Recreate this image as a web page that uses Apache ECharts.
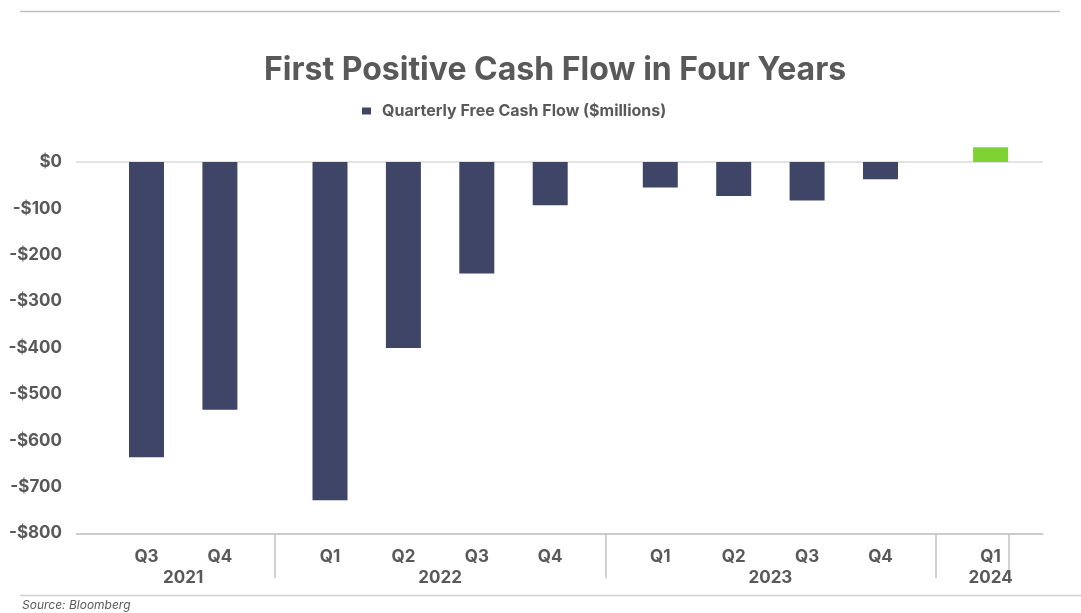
<!DOCTYPE html>
<html>
<head>
<meta charset="utf-8">
<script src="https://cdn.jsdelivr.net/npm/echarts@6/dist/echarts.min.js"></script>
<style>
html,body{margin:0;padding:0;background:#fff;}
#chart{width:1081px;height:613px;}
</style>
</head>
<body>
<div id="chart"></div>
<script>
// ---- data ----
var years = ['2021', '2022', '2023', '2024'];
var quarterLabels = [
  ['Q3', 'Q4'],
  ['Q1', 'Q2', 'Q3', 'Q4'],
  ['Q1', 'Q2', 'Q3', 'Q4'],
  ['Q1']
];
var cashFlow = [
  [-636, -534],
  [-729, -401, -240, -93],
  [-55, -73, -83, -37],
  [32]
];
var yTicks = [-800, -700, -600, -500, -400, -300, -200, -100, 0];
var seriesName = 'Quarterly Free Cash Flow ($millions)';

// ---- layout of category slots (within a year: 2 slots per quarter, 3 between years) ----
var STEP = 2, GAP = 3;
var slotQ = [], slotY = [], slotV = [], sepTicks = [];
var pos = 0;
years.forEach(function (yr, g) {
  if (g > 0) { sepTicks.push(pos + 2); pos += GAP; }
  var first = pos;
  quarterLabels[g].forEach(function (q, i) {
    if (i > 0) pos += STEP;
    slotQ[pos] = q;
    slotV[pos] = cashFlow[g][i];
  });
  var last = pos;
  slotY[Math.round((first + last) / 2)] = yr;
});
var nSlots = pos + 1;
var qCats = [], yCats = [], barData = [];
for (var i = 0; i < nSlots; i++) {
  qCats.push(slotQ[i] || '');
  yCats.push(slotY[i] || '');
  var v = slotV[i];
  if (v === undefined) barData.push('-');
  else barData.push({ value: v, itemStyle: { color: v >= 0 ? '#7ed332' : '#3e4566' } });
}

var FONT = 'Inter, "Noto Sans", sans-serif';
var GREY = '#595959';
var gridTop = 115.6, gridBottom = 79.7;

var chart = echarts.init(document.getElementById('chart'));
chart.setOption({
  animation: false,
  backgroundColor: '#ffffff',
  title: {
    text: 'First Positive Cash Flow in Four Years',
    left: 259, top: 49,
    textStyle: { fontFamily: FONT, fontSize: 32, fontWeight: 'bold', color: GREY }
  },
  legend: {
    data: [{ name: seriesName, icon: 'rect', itemStyle: { color: '#3e4566' } }],
    left: 357, top: 98,
    itemWidth: 9, itemHeight: 7,
    textStyle: { fontFamily: FONT, fontSize: 16, fontWeight: 'bold', color: GREY, padding: [0, 0, 0, 6] }
  },
  grid: [
    { left: 76, right: 38, top: gridTop, bottom: gridBottom },
    { left: 128.15, right: 72.05, top: gridTop, bottom: gridBottom }
  ],
  xAxis: [
    { gridIndex: 0, type: 'category', data: [''], show: true,
      axisLine: { show: false }, axisTick: { show: false }, axisLabel: { show: false } },
    { gridIndex: 1, type: 'category', data: qCats, position: 'bottom',
      axisLine: { show: false, onZero: false }, axisTick: { show: false },
      axisLabel: { interval: 0, margin: 15, fontFamily: FONT, fontSize: 17, fontWeight: 'bold', color: GREY } },
    { gridIndex: 1, type: 'category', data: yCats, position: 'bottom',
      axisLine: { show: false, onZero: false },
      axisTick: { show: true, length: 45, interval: function (idx) { return sepTicks.indexOf(idx) >= 0; },
        lineStyle: { color: '#c4c4c4', width: 1.5 } },
      axisLabel: { interval: 0, margin: 36, fontFamily: FONT, fontSize: 17, fontWeight: 'bold', color: GREY } }
  ],
  yAxis: [
    { gridIndex: 0, type: 'value', min: -800, max: 100, interval: 100,
      axisLine: { show: false }, axisTick: { show: false },
      axisLabel: { margin: 14, fontFamily: FONT, fontSize: 17, fontWeight: 'bold', color: GREY,
        formatter: function (v) {
          if (yTicks.indexOf(v) < 0) return '';
          return v === 0 ? '$0' : (v < 0 ? '-$' + (-v) : '$' + v);
        } },
      splitLine: { show: true, lineStyle: { width: 2,
        color: ['#cccccc', 'rgba(0,0,0,0)', 'rgba(0,0,0,0)', 'rgba(0,0,0,0)', 'rgba(0,0,0,0)',
                'rgba(0,0,0,0)', 'rgba(0,0,0,0)', 'rgba(0,0,0,0)', '#e2e2e2', 'rgba(0,0,0,0)'] } } },
    { gridIndex: 1, type: 'value', min: -800, max: 100, interval: 100, show: false,
      splitLine: { show: false } }
  ],
  series: [
    { name: seriesName, type: 'bar', xAxisIndex: 1, yAxisIndex: 1,
      data: barData, barWidth: 35, itemStyle: { color: '#3e4566' } }
  ],
  graphic: [
    { type: 'line', shape: { x1: 20, y1: 11.5, x2: 1060, y2: 11.5 }, style: { stroke: '#c2c2c2', lineWidth: 1.5 } },
    { type: 'line', shape: { x1: 20, y1: 595.5, x2: 1081, y2: 595.5 }, style: { stroke: '#d0d0d0', lineWidth: 1.5 } },
    { type: 'text', left: 22, top: 599, style: { text: 'Source: Bloomberg', fontFamily: FONT, fontSize: 12, fontStyle: 'italic', fill: GREY } }
  ]
});
</script>
</body>
</html>
